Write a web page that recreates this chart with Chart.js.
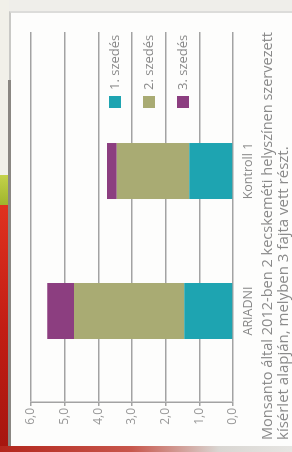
<!DOCTYPE html>
<html>
<head>
<meta charset="utf-8">
<script src="https://cdn.jsdelivr.net/npm/chart.js@4"></script>
<style>
    html, body { margin: 0; padding: 0; }
    body {
        width: 292px; height: 452px; overflow: hidden; position: relative;
        background: #efeeea;
    }
    .strip { position: absolute; left: 0; width: 9px; }
    .panel {
        position: absolute; left: 9px; top: 11px; width: 283px; height: 435px;
        background: #fdfdfc; border-top: 2px solid #dcdcda; border-left: 2px solid #c9c9c6;
        box-sizing: border-box;
    }
    .panel-edge { position: absolute; left: 8px; top: 80px; width: 3px; height: 366px; background: #8a8782; }
    .bottom { position: absolute; left: 0; top: 446px; width: 292px; height: 6px;
        background: linear-gradient(90deg, #b3261c 0%, #c8574c 45%, #d9d6d2 75%, #e6e5e2 100%); }
    /* the printed chart is photographed sideways: draw it upright, then turn it */
    #wrap {
        position: absolute; left: 0; top: 0; width: 452px; height: 292px;
        transform-origin: 0 0; transform: translate(0, 452px) rotate(-90deg);
    }
</style>
</head>
<body>
<div class="strip" style="top:0;height:175px;background:#f1f0e9"></div>
<div class="strip" style="top:175px;height:30px;background:linear-gradient(#c4d24a,#9fb52c)"></div>
<div class="strip" style="top:205px;height:247px;background:linear-gradient(#e0321f,#c21d14 50%,#a5160f)"></div>
<div class="panel"></div>
<div class="panel-edge"></div>
<div class="bottom"></div>
<div id="wrap"><canvas id="chart" width="452" height="292"></canvas></div>
<script>
    // Data (yield per harvest)
    const categories = ['ARIADNI', 'Kontroll 1'];
    const harvestLabels = ['1. szedés', '2. szedés', '3. szedés'];
    const harvest1 = [1.45, 1.30];
    const harvest2 = [3.27, 2.15];
    const harvest3 = [0.80, 0.29];
    const yTicks = [0, 1, 2, 3, 4, 5, 6];
    const caption = [
        'Monsanto által 2012-ben 2 kecskeméti helyszínen szervezett',
        'kísérlet alapján, melyben 3 fajta vett részt.'
    ];

    const colors = ['#1ea4b1', '#a9ab73', '#8c3e80'];
    const textColor = '#8a8a8a';
    const gridColor = '#a3a3a3';
    const fontFamily = "'Open Sans', 'DejaVu Sans', sans-serif";

    const toPoints = values => values.map((v, i) => ({ x: i + 1, y: v }));

    // legend drawn over the plot area, like the printed chart
    const innerLegend = {
        id: 'innerLegend',
        afterDatasetsDraw(chart) {
            const { ctx, chartArea } = chart;
            const x0 = chartArea.right - 76;
            const y0 = chartArea.top + 78;
            ctx.save();
            ctx.font = `13px ${fontFamily}`;
            ctx.textBaseline = 'middle';
            chart.data.datasets.forEach((ds, i) => {
                const y = y0 + i * 34;
                ctx.fillStyle = ds.backgroundColor;
                ctx.fillRect(x0, y, 12, 12);
                ctx.fillStyle = textColor;
                ctx.fillText(ds.label, x0 + 18, y + 6);
            });
            ctx.restore();
        }
    };

    const datasets = [harvest1, harvest2, harvest3].map((vals, i) => ({
        label: harvestLabels[i],
        data: toPoints(vals),
        backgroundColor: colors[i],
        borderWidth: 0,
        categoryPercentage: 0.8,
        barPercentage: 0.5
    }));

    new Chart(document.getElementById('chart'), {
        type: 'bar',
        data: { datasets: datasets },
        plugins: [innerLegend],
        options: {
            responsive: false,
            animation: false,
            layout: { padding: { top: 31, left: 12, right: 32, bottom: 0 } },
            plugins: {
                legend: { display: false },
                tooltip: { enabled: false },
                title: {
                    display: true,
                    position: 'bottom',
                    align: 'start',
                    text: caption,
                    color: textColor,
                    font: { family: fontFamily, size: 15, weight: 'normal', lineHeight: '16px' },
                    padding: { top: 2, bottom: 0 }
                }
            },
            scales: {
                x: {
                    type: 'linear',
                    stacked: true,
                    offset: false,
                    min: 0.35,
                    max: 2.993,
                    afterBuildTicks: scale => {
                        scale.ticks = categories.map((c, i) => ({ value: i + 1 }));
                    },
                    afterFit: scale => { scale.height = 25; },
                    ticks: {
                        color: textColor,
                        font: { family: fontFamily, size: 12.5 },
                        padding: 0,
                        maxRotation: 0,
                        callback: value => categories[value - 1]
                    },
                    grid: { display: false },
                    border: { display: false }
                },
                y: {
                    stacked: true,
                    min: 0,
                    max: 6,
                    afterBuildTicks: scale => {
                        scale.ticks = yTicks.map(v => ({ value: v }));
                    },
                    afterFit: scale => { scale.width = 38; },
                    ticks: {
                        color: '#999999',
                        font: { family: fontFamily, size: 12 },
                        padding: 2,
                        callback: value => value.toFixed(1).replace('.', ',')
                    },
                    grid: { color: gridColor, lineWidth: 1.5, tickLength: 4 },
                    border: { color: gridColor, width: 1.5 }
                }
            }
        }
    });
</script>
</body>
</html>
